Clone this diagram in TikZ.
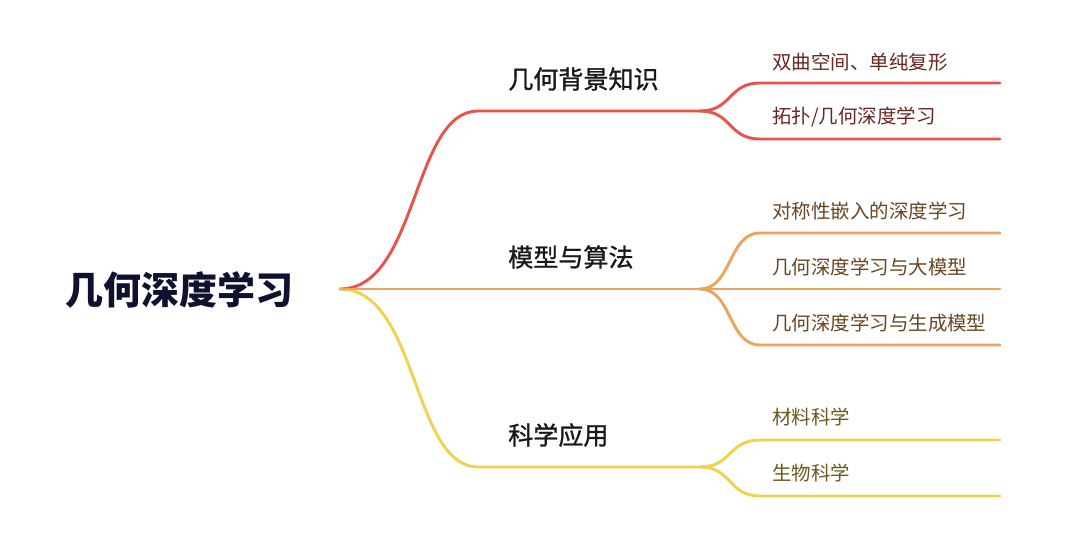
\documentclass[tikz,border=0pt]{standalone}
\usepackage{fontspec}
\newfontfamily\cjk{Noto Sans CJK SC}
\newfontfamily\cjkmed[FakeBold=1.1]{Noto Sans CJK SC}
\definecolor{cred}{HTML}{E8544B}
\definecolor{corange}{HTML}{EDA55E}
\definecolor{cyellow}{HTML}{EFD24E}
\definecolor{tred}{HTML}{6A2620}
\definecolor{torange}{HTML}{6A4522}
\definecolor{tyellow}{HTML}{6A5A1E}
\definecolor{troot}{HTML}{101030}
\tikzset{
  rootlbl/.style={anchor=west, inner sep=0pt, font=\cjk\bfseries\fontsize{28.5pt}{30pt}\selectfont, text=troot},
  mainlbl/.style={anchor=west, inner sep=0pt, font=\cjkmed\fontsize{18.8pt}{20pt}\selectfont, text=black!90},
  sublbl/.style={anchor=west, inner sep=0pt, font=\cjk\fontsize{14.6pt}{16pt}\selectfont},
  link/.style={line width=2.2pt, line cap=round},
}
\begin{document}
\begin{tikzpicture}[x=0.75pt,y=-0.75pt]
\useasboundingbox (0,0) rectangle (1080,550);
\fill[white] (0,0) rectangle (1080,550);
% root
\node[rootlbl] (root) at (65,290) {几何深度学习};
\coordinate (r0) at (340,289);
% level 1 anchor points
\coordinate (a1) at (478,111);
\coordinate (a2) at (478,289);
\coordinate (a3) at (478,467);
\coordinate (s1) at (700,111);
\coordinate (s2) at (700,289);
\coordinate (s3) at (700,467);
% level1 labels
\node[mainlbl] (m1) at (508,79) {几何背景知识};
\node[mainlbl] (m2) at (508,257) {模型与算法};
\node[mainlbl] (m3) at (508,435) {科学应用};
% level1 connectors
\draw[link, cred] (r0) .. controls (418,289) and (412,111) .. (a1) -- (s1);
\draw[link, cyellow] (r0) .. controls (418,289) and (412,467) .. (a3) -- (s3);
\draw[link, corange] (r0) -- (a2) -- (s2);
% level 2 endpoints
\coordinate (b1) at (760,83);  \coordinate (e1) at (1000,83);
\coordinate (b2) at (760,139); \coordinate (e2) at (1000,139);
\coordinate (b3) at (760,233); \coordinate (e3) at (1000,233);
\coordinate (b4) at (760,289); \coordinate (e4) at (1000,289);
\coordinate (b5) at (760,345); \coordinate (e5) at (1000,345);
\coordinate (b6) at (760,440); \coordinate (e6) at (1000,440);
\coordinate (b7) at (760,496); \coordinate (e7) at (1000,496);
% level2 connectors
\draw[link, cred] (s1) .. controls (732,111) and (728,83) .. (b1) -- (e1);
\draw[link, cred] (s1) .. controls (732,111) and (728,139) .. (b2) -- (e2);
\draw[link, corange] (s2) .. controls (732,289) and (728,233) .. (b3) -- (e3);
\draw[link, corange] (s2) -- (b4) -- (e4);
\draw[link, corange] (s2) .. controls (732,289) and (728,345) .. (b5) -- (e5);
\draw[link, cyellow] (s3) .. controls (732,467) and (728,440) .. (b6) -- (e6);
\draw[link, cyellow] (s3) .. controls (732,467) and (728,496) .. (b7) -- (e7);
% level2 labels
\node[sublbl, text=tred] (n1) at (772,62) {双曲空间、单纯复形};
\node[sublbl, text=tred] (n2) at (772,117) {拓扑/几何深度学习};
\node[sublbl, text=torange] (n3) at (772,211) {对称性嵌入的深度学习};
\node[sublbl, text=torange] (n4) at (772,267) {几何深度学习与大模型};
\node[sublbl, text=torange] (n5) at (772,323) {几何深度学习与生成模型};
\node[sublbl, text=tyellow] (n6) at (772,417) {材料科学};
\node[sublbl, text=tyellow] (n7) at (772,473) {生物科学};
\end{tikzpicture}
\end{document}
